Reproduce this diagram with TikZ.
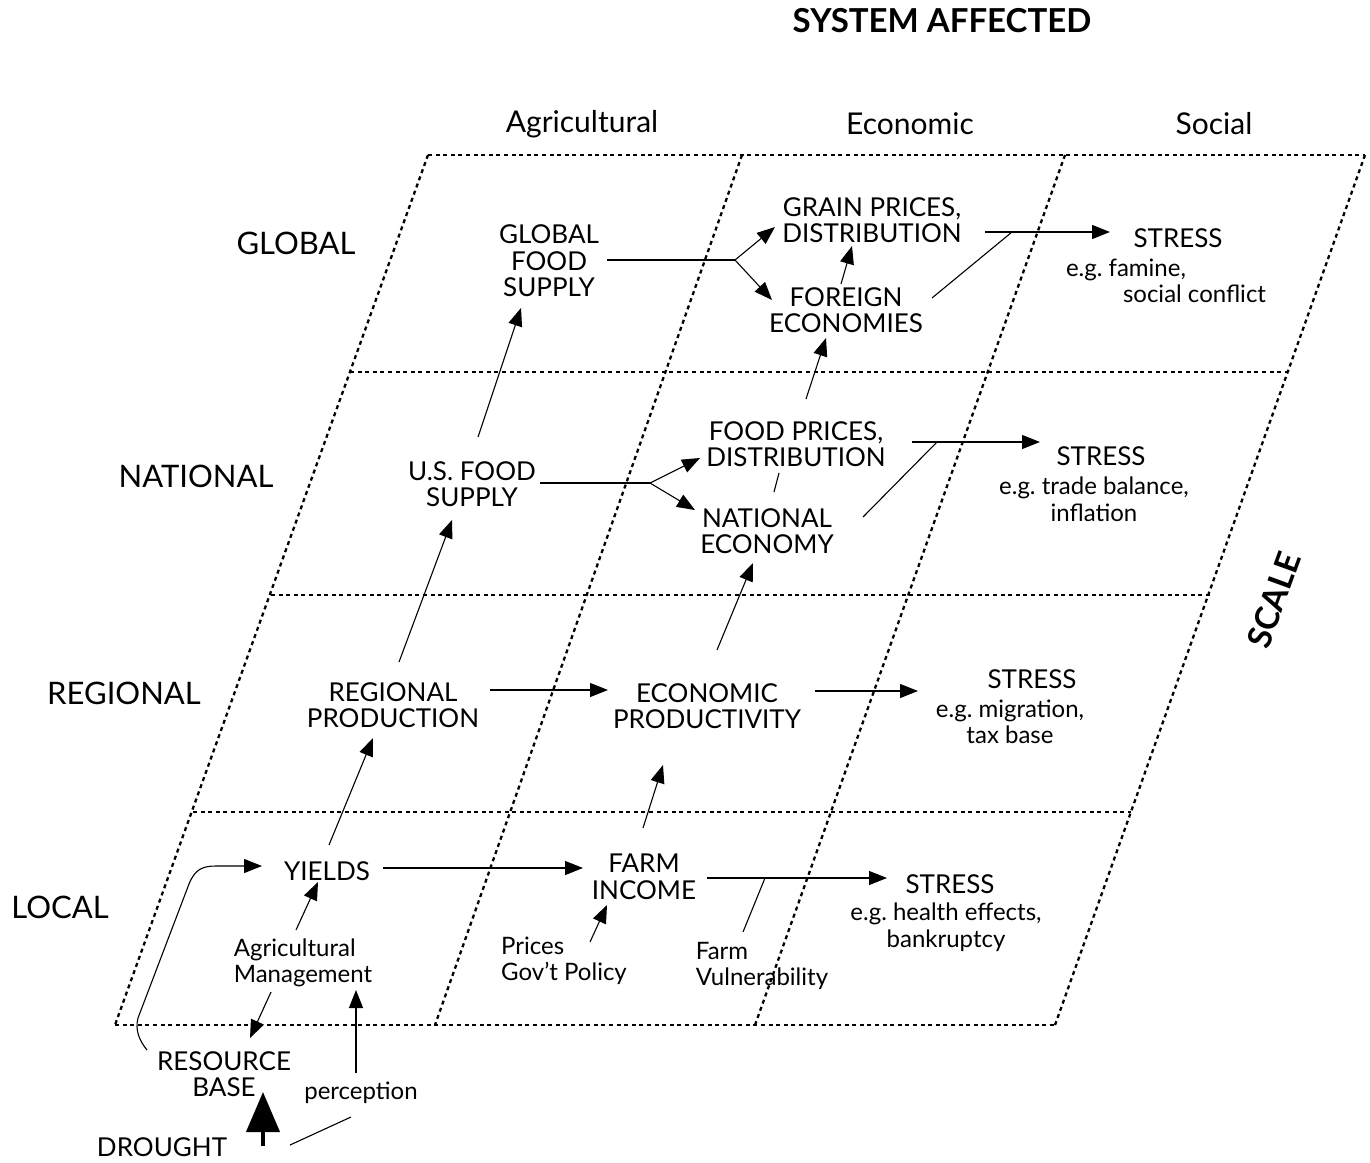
\documentclass[tikz,border=0pt]{standalone}
\usepackage{fontspec}
\setmainfont{Lato}
\usetikzlibrary{arrows.meta,calc}
\frenchspacing
\begin{document}
\begin{tikzpicture}[x=1pt,y=-1pt,
  gridline/.style={line width=2.3pt, dash pattern=on 4pt off 3.6pt},
  conn/.style={line width=1.1pt},
  arr/.style={conn, -{Triangle[length=18pt,width=14pt]}},
  item/.style={font=\fontsize{26}{26.5}\selectfont, align=center, inner sep=0pt},
  note/.style={font=\fontsize{24}{26.5}\selectfont, align=center, inner sep=0pt},
  rowlab/.style={font=\fontsize{31}{32}\selectfont, inner sep=0pt},
  collab/.style={font=\fontsize{30}{32}\selectfont, inner sep=0pt},
  headlab/.style={font=\bfseries\fontsize{33}{34}\selectfont, inner sep=0pt}
]
\useasboundingbox (0,0) rectangle (1370,1162);

% ---- the slanted scale/system grid ----
\draw[gridline] (428,155) -- (1365,155);
\draw[gridline] (350,372) -- (1288,372);
\draw[gridline] (271,595) -- (1210,595);
\draw[gridline] (193,812) -- (1131,812);
\draw[gridline] (115,1025) -- (1055,1025);
\draw[gridline] (428,155) -- (115,1025);
\draw[gridline] (742,155) -- (435,1025);
\draw[gridline] (1065,155) -- (755,1025);
\draw[gridline] (1365,155) -- (1055,1025);

% ---- headings ----
\node[headlab] (title) at (942,21) {SYSTEM AFFECTED};
\node[collab] (colA) at (582,124) {Agricultural};
\node[collab] (colE) at (910,124) {Economic};
\node[collab] (colS) at (1214,124) {Social};
\node[rowlab] (rowG) at (296,243) {GLOBAL};
\node[rowlab] (rowN) at (196,476) {NATIONAL};
\node[rowlab] (rowR) at (124,693) {REGIONAL};
\node[rowlab] (rowL) at (60,907) {LOCAL};
\node[headlab, rotate=70] (scale) at (1274,600) {SCALE};

% ---- global level ----
\node[item] (gfs) at (549,261) {GLOBAL\\FOOD\\SUPPLY};
\node[item] (grain) at (872,220) {GRAIN PRICES,\\DISTRIBUTION};
\node[item] (foreign) at (846,310) {FOREIGN\\ECONOMIES};
\node[item] (stressG) at (1178,238) {STRESS};
\node[note, align=left] (egG) at (1166,281) {e.g. famine,\\\hspace*{57pt}social conflict};

% ---- national level ----
\node[item] (usfs) at (472,484) {U.S. FOOD\\SUPPLY};
\node[item] (foodp) at (796,444) {FOOD PRICES,\\DISTRIBUTION};
\node[item] (nateco) at (767,531) {NATIONAL\\ECONOMY};
\node[item] (stressN) at (1101,456) {STRESS};
\node[note] (egN) at (1094,499) {e.g. trade balance,\\inflation};

% ---- regional level ----
\node[item] (regprod) at (393,705) {REGIONAL\\PRODUCTION};
\node[item] (ecoprod) at (707,706) {ECONOMIC\\PRODUCTIVITY};
\node[item] (stressR) at (1032,679) {STRESS};
\node[note] (egR) at (1010,722) {e.g. migration,\\tax base};

% ---- local level ----
\node[item] (yields) at (327,871) {YIELDS};
\node[item] (farminc) at (644,877) {FARM\\INCOME};
\node[item] (stressL) at (950,884) {STRESS};
\node[note] (egL) at (946,927) {e.g. health effects,\\bankruptcy};
\node[note, align=left] (agmgmt) at (303,963) {Agricultural\\Management};
\node[note, align=left] (prices) at (564,961) {Prices\\Gov't Policy};
\node[note, align=left] (farmvul) at (762,966) {Farm\\Vulnerability};

% ---- below the grid ----
\node[item] (resbase) at (224,1074) {RESOURCE\\BASE};
\node[note] (percep) at (361,1093) {perception};
\node[item] (drought) at (162,1147) {DROUGHT};

% ---- junction points ----
\coordinate (jG) at ($(gfs)+(186,-1)$);
\coordinate (jG2) at ($(grain)+(140,12)$);
\coordinate (jN) at ($(usfs)+(178,-1)$);
\coordinate (jN2) at ($(foodp)+(141,-2)$);
\coordinate (jL) at ($(farminc)+(121,1)$);

% ---- global connectors ----
\draw[arr] ($(usfs)+(6,-47)$) -- ($(gfs)+(-28,47)$);
\draw[conn] ($(gfs)+(58,-1)$) -- (jG);
\draw[arr] (jG) -- ($(grain)+(-97,7)$);
\draw[arr] (jG) -- ($(foreign)+(-74,-10)$);
\draw[arr] ($(foreign)+(-5,-26)$) -- ($(grain)+(-20,26)$);
\draw[arr] ($(grain)+(113,12)$) -- ($(stressG)+(-68,-6)$);
\draw[conn] ($(foreign)+(86,-12)$) -- (jG2);

% ---- national connectors ----
\draw[arr] ($(foodp)+(10,-45)$) -- ($(foreign)+(-20,28)$);
\draw[conn] ($(usfs)+(68,-1)$) -- (jN);
\draw[arr] (jN) -- ($(foodp)+(-96,14)$);
\draw[arr] (jN) -- ($(nateco)+(-72,-21)$);
\draw[conn] ($(foodp)+(-17,29)$) -- ($(nateco)+(7,-39)$);
\draw[arr] ($(foodp)+(116,-2)$) -- ($(stressN)+(-61,-14)$);
\draw[conn] ($(nateco)+(96,-14)$) -- (jN2);

% ---- regional connectors ----
\draw[arr] ($(regprod)+(6,-43)$) -- ($(usfs)+(-20,36)$);
\draw[arr] ($(ecoprod)+(10,-56)$) -- ($(nateco)+(-14,32)$);
\draw[arr] ($(regprod)+(97,-15)$) -- ($(ecoprod)+(-99,-16)$);
\draw[arr] ($(ecoprod)+(108,-15)$) -- ($(stressR)+(-114,12)$);

% ---- local connectors ----
\draw[arr] ($(yields)+(2,-26)$) -- ($(regprod)+(-20,33)$);
\draw[arr] ($(farminc)+(-1,-49)$) -- ($(ecoprod)+(-44,59)$);
\draw[arr] ($(yields)+(56,-3)$) -- ($(farminc)+(-61,-9)$);
\draw[arr] ($(farminc)+(63,1)$) -- ($(stressL)+(-63,-6)$);
\draw[conn] ($(farmvul)+(-19,-34)$) -- (jL);
\draw[arr] ($(prices)+(26,-19)$) -- ($(farminc)+(-37,28)$);
\draw[arr] ($(agmgmt)+(-7,-33)$) -- ($(yields)+(-9,11)$);
\draw[arr] ($(agmgmt)+(-32,29)$) -- ($(resbase)+(26,-36)$);
\draw[arr] ($(percep)+(-5,-20)$) -- ($(agmgmt)+(53,27)$);
\draw[conn] ($(drought)+(128,-2)$) -- ($(percep)+(-10,24)$);
\draw[line width=4pt, -{Triangle[length=40pt,width=33pt]}]
  ($(drought)+(101,-1)$) -- ($(resbase)+(39,18)$);
\draw[arr] ($(resbase)+(-77,-24)$)
  .. controls ($(resbase)+(-85,-34)$) and ($(resbase)+(-89,-44)$) .. ($(resbase)+(-86,-56)$)
  -- ($(yields)+(-138,13)$)
  .. controls ($(yields)+(-132,-2)$) and ($(yields)+(-124,-5)$) .. ($(yields)+(-111,-5)$)
  -- ($(yields)+(-65,-5)$);
\end{tikzpicture}
\end{document}
